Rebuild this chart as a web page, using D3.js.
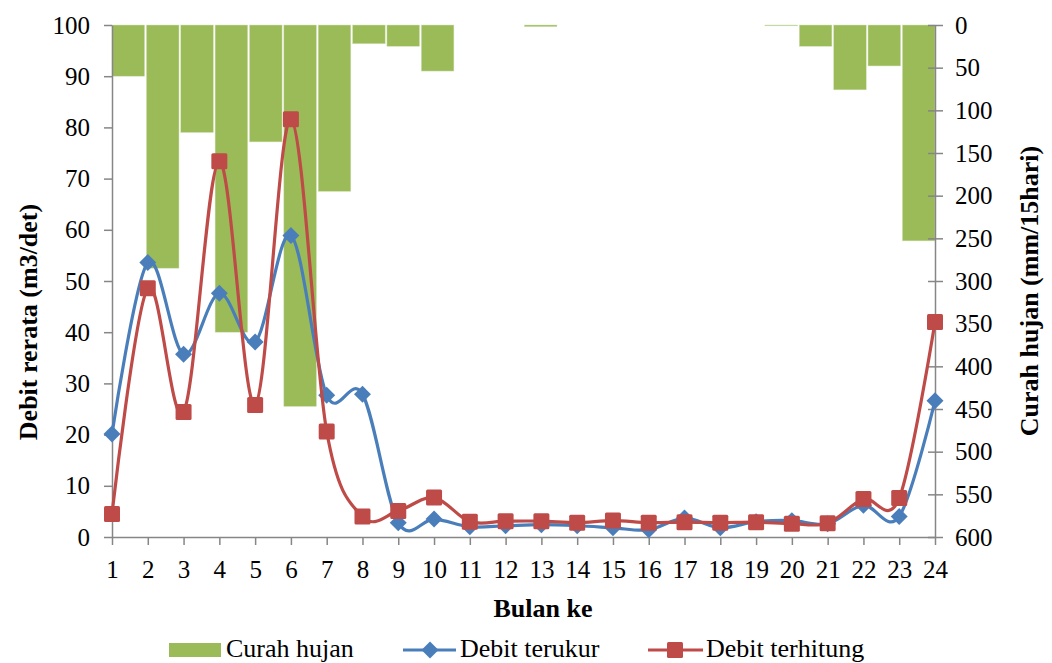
<!DOCTYPE html>
<html lang="id">
<head>
<meta charset="UTF-8"/>
<title>Debit dan curah hujan</title>
<script src="https://d3js.org/d3.v7.min.js"></script>
<style>
  body { margin: 0; background: #fff; }
  text { font-family: "Liberation Serif", "Times New Roman", serif; fill: #000; }
  .axis path, .axis line { stroke: #868686; stroke-width: 1.5px; fill: none; }
  .axis text { font-size: 25px; }
  .title { font-weight: bold; font-size: 26px; }
  .legend text { font-size: 26px; }
</style>
</head>
<body>
<div id="chart"></div>
<script>
// data
var bulan = d3.range(1, 25);
var curahHujan = [60, 285, 126, 360, 137, 447, 195, 22, 25, 54, 0, 0, 2, 0, 0, 0, 0, 0, 0, 1, 25, 76, 48, 253];
var debitTerukur = [20.1, 53.6, 35.7, 47.6, 38.1, 58.9, 27.7, 27.9, 2.8, 3.5, 2.0, 2.2, 2.4, 2.2, 1.8, 1.4, 3.7, 1.8, 3.0, 3.2, 2.6, 6.2, 4.0, 26.6];
var debitTerhitung = [4.5, 48.6, 24.4, 73.4, 25.8, 81.6, 20.6, 4.0, 5.1, 7.7, 3.0, 3.1, 3.1, 2.8, 3.2, 2.8, 2.9, 2.8, 2.9, 2.6, 2.7, 7.4, 7.6, 42.0];
var ticksKiri = d3.range(0, 101, 10);
var ticksKanan = d3.range(0, 601, 50);

var width = 1052, height = 663;
var kiri = 112, kanan = 935, atas = 25, bawah = 537;

var svg = d3.select("#chart").append("svg")
    .attr("width", width)
    .attr("height", height);

var x = d3.scalePoint().domain(bulan).range([kiri, kanan]);
var xBar = d3.scaleBand().domain(bulan).range([kiri, kanan]).paddingInner(0.05);
var yKiri = d3.scaleLinear().domain([0, 100]).range([bawah, atas]);
var yKanan = d3.scaleLinear().domain([0, 600]).range([atas, bawah]);

// bars hanging from the top (reversed right axis)
svg.append("g").selectAll("rect")
    .data(curahHujan)
  .enter().append("rect")
    .attr("x", function(d, i) { return xBar(bulan[i]); })
    .attr("y", yKanan(0))
    .attr("width", xBar.bandwidth())
    .attr("height", function(d) { return yKanan(d) - yKanan(0); })
    .attr("fill", "#9bbb59")
    .attr("stroke", "#d7e4bd")
    .attr("stroke-width", 0.5);

// axes
svg.append("g").attr("class", "axis")
    .attr("transform", "translate(" + kiri + ",0)")
    .call(d3.axisLeft(yKiri).tickValues(ticksKiri).tickSize(8).tickSizeOuter(0).tickPadding(14));

var axKanan = svg.append("g").attr("class", "axis")
    .attr("transform", "translate(" + kanan + ",0)")
    .call(d3.axisRight(yKanan).tickValues(ticksKanan).tickSize(8).tickSizeOuter(0).tickPadding(12));
axKanan.selectAll(".tick line").attr("x1", -7);

svg.append("g").attr("class", "axis")
    .attr("transform", "translate(0," + bawah + ")")
    .call(d3.axisBottom(x).tickSize(8).tickSizeOuter(0).tickPadding(15));

// lines
var line = d3.line()
    .x(function(d, i) { return x(bulan[i]); })
    .curve(d3.curveCatmullRom.alpha(0));

var diamond = "M-6,-6H6V6H-6Z";
var kotak = "M-8,-6.5Q-8,-8 -6.5,-8H6.5Q8,-8 8,-6.5V6.5Q8,8 6.5,8H-6.5Q-8,8 -8,6.5Z";

function seri(data, warna, bentuk) {
  var g = svg.append("g");
  g.append("path")
      .datum(data)
      .attr("d", line.y(function(d) { return yKiri(d); }))
      .attr("fill", "none")
      .attr("stroke", warna)
      .attr("stroke-width", 3.2);
  g.selectAll(".m")
      .data(data)
    .enter().append("path")
      .attr("transform", function(d, i) {
        return "translate(" + x(bulan[i]) + "," + yKiri(d) + ")" + (bentuk == diamond ? " rotate(45)" : "");
      })
      .attr("d", bentuk)
      .attr("fill", warna);
}
seri(debitTerukur, "#4a7ebb", diamond);
seri(debitTerhitung, "#be4b48", kotak);

// titles
svg.append("text").attr("class", "title")
    .attr("x", 543).attr("y", 617)
    .attr("text-anchor", "middle")
    .text("Bulan ke");
svg.append("text").attr("class", "title")
    .attr("transform", "translate(37,322) rotate(-90)")
    .attr("text-anchor", "middle")
    .text("Debit rerata (m3/det)");
svg.append("text").attr("class", "title")
    .attr("transform", "translate(1038,291) rotate(-90)")
    .attr("text-anchor", "middle")
    .text("Curah hujan (mm/15hari)");

// legend
var lg = svg.append("g").attr("class", "legend");
lg.append("rect").attr("x", 169).attr("y", 643).attr("width", 52).attr("height", 14).attr("fill", "#9bbb59");
lg.append("text").attr("x", 226).attr("y", 657).text("Curah hujan");

lg.append("line").attr("x1", 403).attr("x2", 456).attr("y1", 650).attr("y2", 650)
    .attr("stroke", "#4a7ebb").attr("stroke-width", 3.2);
lg.append("path").attr("transform", "translate(430,650) rotate(45)")
    .attr("d", diamond).attr("fill", "#4a7ebb");
lg.append("text").attr("x", 460).attr("y", 657).text("Debit terukur");

lg.append("line").attr("x1", 648).attr("x2", 703).attr("y1", 650).attr("y2", 650)
    .attr("stroke", "#be4b48").attr("stroke-width", 3.2);
lg.append("path").attr("transform", "translate(675,650)")
    .attr("d", kotak).attr("fill", "#be4b48");
lg.append("text").attr("x", 706).attr("y", 657).text("Debit terhitung");
</script>
</body>
</html>
